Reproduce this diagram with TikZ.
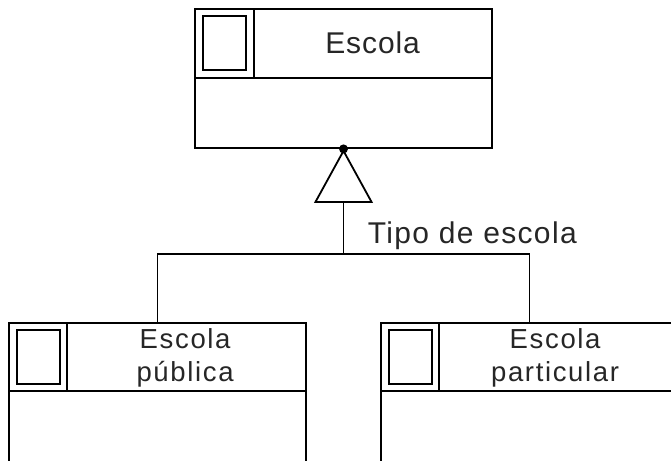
\documentclass[tikz,border=0pt]{standalone}
\usepackage{fontspec}
\setmainfont{Liberation Sans}
\usetikzlibrary{calc}
\begin{document}
\begin{tikzpicture}[x=1pt,y=-1pt,line width=1.8pt,
  classbox/.style={draw,rectangle,minimum width=297pt,minimum height=139pt,inner sep=0pt},
  iconbox/.style={draw,rectangle,minimum width=43pt,minimum height=54pt,inner sep=0pt},
  title/.style={font=\fontsize{30}{33}\selectfont\addfontfeature{LetterSpace=3},inner sep=0pt,text=black!85},
  subtitle/.style={font=\fontsize{27.5}{33}\selectfont\addfontfeature{LetterSpace=6},inner sep=0pt,align=center,text=black!85},
  lbl/.style={font=\fontsize{30}{33}\selectfont\addfontfeature{LetterSpace=4.5},inner sep=0pt,text=black!85}]
\useasboundingbox (0,0) rectangle (671,460);
\clip (0,0) rectangle (671,460);

% top class
\node[classbox] (top) at (343.5,78.5) {};
\draw ($(top.north west)+(0,70)$) -- ($(top.north east)+(0,70)$);
\draw ($(top.north west)+(60,0)$) -- ($(top.north west)+(60,70)$);
\node[iconbox] (topicon) at ($(top.north west)+(30.5,35)$) {};
\node[title] (toptxt) at ($(top.north west)+(178.5,35)$) {Escola};

% left class
\node[classbox] (pub) at (157.5,392.5) {};
\draw ($(pub.north west)+(0,69)$) -- ($(pub.north east)+(0,69)$);
\draw ($(pub.north west)+(59,0)$) -- ($(pub.north west)+(59,69)$);
\node[iconbox] (pubicon) at ($(pub.north west)+(30,35)$) {};
\node[subtitle,anchor=north] (pubtxt) at ($(pub.north west)+(177,6)$) {Escola\\pública};

% right class
\node[classbox] (par) at (529.5,392.5) {};
\draw ($(par.north west)+(0,69)$) -- ($(par.north east)+(0,69)$);
\draw ($(par.north west)+(59,0)$) -- ($(par.north west)+(59,69)$);
\node[iconbox] (paricon) at ($(par.north west)+(30,35)$) {};
\node[subtitle,anchor=north] (partxt) at ($(par.north west)+(175,6)$) {Escola\\particular};

% generalization
\fill (top.south) circle (4.5pt);
\coordinate (apex) at ($(top.south)+(0,2)$);
\coordinate (tl) at ($(apex)+(-28,51)$);
\coordinate (tr) at ($(apex)+(28,51)$);
\coordinate (tb) at ($(apex)+(0,51)$);
\draw[line join=miter] (apex) -- (tl) -- (tr) -- cycle;
\coordinate (junc) at ($(tb)+(0,52)$);
\draw (tb) -- (junc);
\draw (pub.north) |- (junc) -| (par.north);
\node[lbl,anchor=base west] (gen) at (367,243) {Tipo de escola};
\end{tikzpicture}
\end{document}
